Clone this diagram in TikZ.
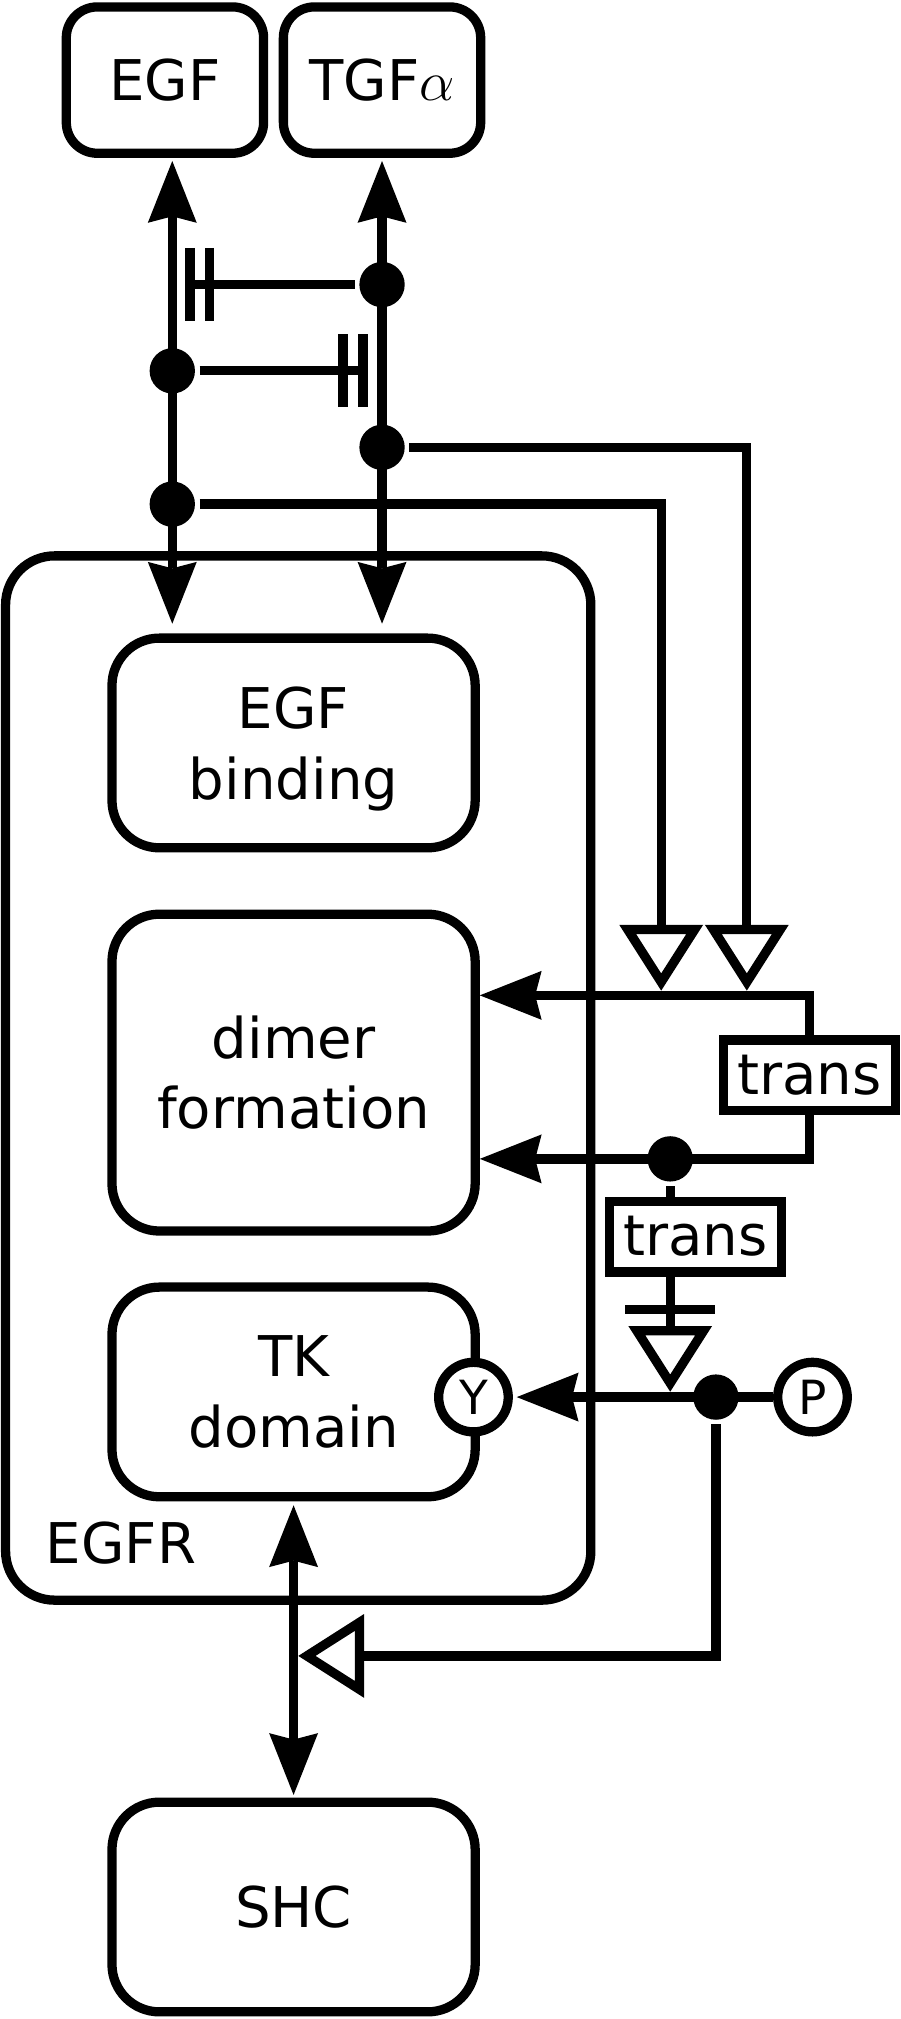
\RequirePackage{fix-cm}
\documentclass[tikz,border=0pt]{standalone}
\usepackage{fontspec}
\setmainfont{DejaVu Sans}
\usetikzlibrary{arrows.meta,positioning}

\begin{document}
\begin{tikzpicture}[
    x=0.025cm,y=-0.025cm,line width=0.18cm,
    font=\fontsize{31}{39}\selectfont,
    >={Stealth[length=1.2cm,width=0.95cm,inset=0.125cm,line width=0pt]},
    ligand/.style={draw,rounded corners=0.6cm,minimum width=3.83cm,
                   minimum height=2.84cm,inner sep=0pt},
    module/.style={draw,rounded corners=0.92cm,fill=white,align=center,
                   minimum width=7.05cm,minimum height=4.07cm,inner sep=0pt},
    transbox/.style={draw,fill=white,minimum width=3.34cm,minimum height=1.37cm,
                     inner sep=0pt},
    site/.style={draw,circle,fill=white,minimum size=1.35cm,inner sep=0pt,
                 font=\fontsize{26}{30}\selectfont},
    blob/.style={circle,fill=black,minimum size=0.88cm,inner sep=0pt},
    stim/.style={-{Triangle[fill=white,length=1.28cm,width=1.58cm]}}
  ]
    \useasboundingbox (0,0) rectangle (699,1568);
    % receptor
    \node[draw,rounded corners=0.95cm,minimum width=11.36cm,minimum height=20.27cm]
         (egfr) at (231.6,837.2) {};
    \node[anchor=west,inner sep=0pt] (egfrlab) at (32,1198) {EGFR};
    \node[ligand] (egf) at (128.1,62.2) {EGF};
    \node[ligand] (tgf) at (296.7,62.2) {TGF$\alpha$};
    \node[module] (bind) at (228,577) {EGF\\\smash{binding}};
    \node[module,minimum height=6.15cm] (dimer) at (228,833) {dimer\\formation};
    \node[module] (tk) at (228,1081) {TK\\domain};
    \node[module] (shc) at (228,1481) {SHC};
    \node[site] (y) at (367.7,1085) {Y};
    \node[site] (p) at (631,1085) {P};
    \node[transbox] (tr1) at (628.5,835) {trans};
    \node[transbox] (tr2) at (539.9,960.4) {trans};
    % junctions
    \node[blob] (d1) at (296.7,221) {};
    \node[blob] (d2) at (133.8,288) {};
    \node[blob] (d3) at (296.7,347.4) {};
    \node[blob] (d4) at (133.8,391.5) {};
    \node[blob] (d5) at (520.5,900) {};
    \node[blob] (d6) at (556,1085) {};
    \coordinate (b1) at (147.6,221);
    \coordinate (b2) at (281.9,288);
    \coordinate (s1) at (513.5,769.5);
    \coordinate (s2) at (580,769.5);
    \coordinate (u1) at (628.5,773);
    \coordinate (u2) at (628.5,900);
    \coordinate (nb) at (520.5,1017);
    \coordinate (s3) at (520.5,1081);
    \coordinate (s4) at (231.5,1286);
    % ligand binding
    \draw[<->,shorten <=0.06cm,shorten >=0.19cm] (egf.south -| d2) -- (bind.north -| d2);
    \draw[<->,shorten <=0.06cm,shorten >=0.19cm] (tgf.south -| d1) -- (bind.north -| d1);
    \draw (d1) -- (b1);
    \draw ([yshift=0.71cm]b1) -- ([yshift=-0.71cm]b1);
    \draw ([xshift=0.38cm,yshift=0.71cm]b1) -- ([xshift=0.38cm,yshift=-0.71cm]b1);
    \draw (d2) -- (b2);
    \draw ([yshift=0.71cm]b2) -- ([yshift=-0.71cm]b2);
    \draw ([xshift=-0.39cm,yshift=0.71cm]b2) -- ([xshift=-0.39cm,yshift=-0.71cm]b2);
    \draw[stim] (d4) -| (s1);
    \draw[stim] (d3) -| (s2);
    % transphosphorylation
    \draw[->] (tr1) |- (dimer.east |- u1);
    \draw[->] (tr1) |- (dimer.east |- u2);
    \draw (d5) -- (d5 |- tr2.north);
    \draw[stim] (d5 |- tr2.south) -- (s3);
    \draw ([xshift=-0.875cm]nb) -- ([xshift=0.875cm]nb);
    \draw[->,shorten >=0.075cm] (p) -- (y);
    \draw[stim] (d6) |- (s4);
    \draw[<->,shorten <=0.075cm,shorten >=0.05cm] (tk) -- (shc);
\end{tikzpicture}
\end{document}
